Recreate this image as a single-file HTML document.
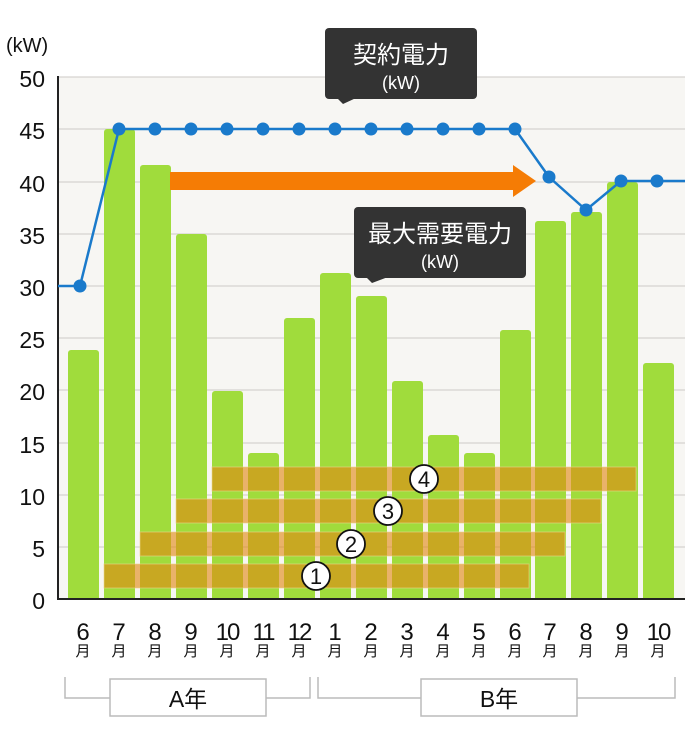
<!DOCTYPE html>
<html><head><meta charset="utf-8"><style>
body{margin:0;background:#fff;}
svg text{font-family:"Liberation Sans","Noto Sans CJK JP",sans-serif;}
</style></head><body>
<svg width="700" height="750" viewBox="0 0 700 750">
<rect x="58" y="77" width="627" height="522" fill="#f7f6f3"/>
<g stroke="#d6d4d0" stroke-width="1.2">
<line x1="58" y1="77" x2="685" y2="77"/><line x1="58" y1="129" x2="685" y2="129"/>
<line x1="58" y1="182" x2="685" y2="182"/><line x1="58" y1="234" x2="685" y2="234"/>
<line x1="58" y1="286" x2="685" y2="286"/><line x1="58" y1="338" x2="685" y2="338"/>
<line x1="58" y1="390" x2="685" y2="390"/><line x1="58" y1="443" x2="685" y2="443"/>
<line x1="58" y1="495" x2="685" y2="495"/><line x1="58" y1="547" x2="685" y2="547"/>
</g>
<g fill="#a0dc3c">
<rect x="68" y="350" width="31" height="260" rx="3"/>
<rect x="104" y="129" width="31" height="480" rx="3"/>
<rect x="140" y="165" width="31" height="440" rx="3"/>
<rect x="176" y="234" width="31" height="370" rx="3"/>
<rect x="212" y="391" width="31" height="210" rx="3"/>
<rect x="248" y="453" width="31" height="150" rx="3"/>
<rect x="284" y="318" width="31" height="290" rx="3"/>
<rect x="320" y="273" width="31" height="330" rx="3"/>
<rect x="356" y="296" width="31" height="310" rx="3"/>
<rect x="392" y="381" width="31" height="220" rx="3"/>
<rect x="428" y="435" width="31" height="170" rx="3"/>
<rect x="464" y="453" width="31" height="150" rx="3"/>
<rect x="500" y="330" width="31" height="280" rx="3"/>
<rect x="535" y="221" width="31" height="390" rx="3"/>
<rect x="571" y="212" width="31" height="390" rx="3"/>
<rect x="607" y="182" width="31" height="420" rx="3"/>
<rect x="643" y="363" width="31" height="240" rx="3"/>
</g>
<rect x="58" y="599" width="627" height="20" fill="#fff"/>
<g fill="rgb(225,135,20)" fill-opacity="0.62" stroke="#ead58a" stroke-opacity="0.6" stroke-width="1">
<rect x="104" y="564" width="425" height="24"/>
<rect x="140" y="532" width="425" height="24"/>
<rect x="176" y="499" width="425" height="24"/>
<rect x="212" y="467" width="424" height="24"/>
</g>
<line x1="58" y1="76" x2="58" y2="600" stroke="#222" stroke-width="2"/>
<line x1="57" y1="599" x2="685" y2="599" stroke="#222" stroke-width="2"/>
<polygon points="170,172 513,172 513,165 536,181 513,197 513,190 170,190" fill="#f57c05"/>
<polyline points="58,286 80,286 119,129 515,129 549,177 586,210 621,181 657,181 685,181" fill="none" stroke="#1a7acb" stroke-width="2.5"/>
<g fill="#1a7acb">
<circle cx="80" cy="286" r="6.5"/><circle cx="119" cy="129" r="6.5"/><circle cx="155" cy="129" r="6.5"/><circle cx="191" cy="129" r="6.5"/><circle cx="227" cy="129" r="6.5"/><circle cx="263" cy="129" r="6.5"/><circle cx="299" cy="129" r="6.5"/><circle cx="335" cy="129" r="6.5"/><circle cx="371" cy="129" r="6.5"/><circle cx="407" cy="129" r="6.5"/><circle cx="443" cy="129" r="6.5"/><circle cx="479" cy="129" r="6.5"/><circle cx="515" cy="129" r="6.5"/><circle cx="549" cy="177" r="6.5"/><circle cx="586" cy="210" r="6.5"/><circle cx="621" cy="181" r="6.5"/><circle cx="657" cy="181" r="6.5"/>
</g>
<g fill="#fff" stroke="#111" stroke-width="1.8">
<circle cx="316" cy="576" r="14"/><circle cx="351" cy="544" r="14"/><circle cx="388" cy="511" r="14"/><circle cx="424" cy="479" r="14"/>
</g>
<g font-size="22" text-anchor="middle" fill="#111">
<text x="316" y="584">1</text><text x="351" y="552">2</text><text x="388" y="519">3</text><text x="424" y="487">4</text>
</g>
<rect x="325" y="28" width="152" height="71" rx="4" fill="#333"/>
<polygon points="337,98 356,98 343,104" fill="#333"/>
<text x="401" y="63" font-size="24" fill="#fff" text-anchor="middle">契約電力</text>
<text x="401" y="89" font-size="18" fill="#fff" text-anchor="middle">(kW)</text>
<rect x="354" y="207" width="172" height="71" rx="4" fill="#333"/>
<polygon points="366,277 388,277 372,283" fill="#333"/>
<text x="440" y="242" font-size="24" fill="#fff" text-anchor="middle">最大需要電力</text>
<text x="440" y="268" font-size="18" fill="#fff" text-anchor="middle">(kW)</text>
<g font-size="23" fill="#111" text-anchor="end">
<text x="45" y="87">50</text><text x="45" y="139">45</text><text x="45" y="192">40</text><text x="45" y="244">35</text><text x="45" y="296">30</text><text x="45" y="348">25</text><text x="45" y="400">20</text><text x="45" y="453">15</text><text x="45" y="505">10</text><text x="45" y="557">5</text><text x="45" y="609">0</text>
</g>
<text x="6" y="52" font-size="20" fill="#111">(kW)</text>
<g font-size="24" fill="#111" text-anchor="middle">
<text x="83" y="640">6</text><text x="119" y="640">7</text><text x="155" y="640">8</text><text x="191" y="640">9</text><text x="227" y="640" letter-spacing="-2">10</text><text x="263" y="640" letter-spacing="-2">11</text><text x="299" y="640" letter-spacing="-2">12</text><text x="335" y="640">1</text><text x="371" y="640">2</text><text x="407" y="640">3</text><text x="443" y="640">4</text><text x="479" y="640">5</text><text x="515" y="640">6</text><text x="550" y="640">7</text><text x="586" y="640">8</text><text x="622" y="640">9</text><text x="658" y="640" letter-spacing="-2">10</text>
</g>
<g font-size="15" fill="#111" text-anchor="middle">
<text x="83" y="656">月</text><text x="119" y="656">月</text><text x="155" y="656">月</text><text x="191" y="656">月</text><text x="227" y="656">月</text><text x="263" y="656">月</text><text x="299" y="656">月</text><text x="335" y="656">月</text><text x="371" y="656">月</text><text x="407" y="656">月</text><text x="443" y="656">月</text><text x="479" y="656">月</text><text x="515" y="656">月</text><text x="550" y="656">月</text><text x="586" y="656">月</text><text x="622" y="656">月</text><text x="658" y="656">月</text>
</g>
<g fill="none" stroke="#bbb" stroke-width="1.5">
<polyline points="65,677 65,698 110,698"/><polyline points="266,698 310,698 310,677"/>
<polyline points="318,677 318,698 421,698"/><polyline points="577,698 675,698 675,677"/>
<rect x="110" y="679" width="156" height="37" fill="#fff"/>
<rect x="421" y="679" width="156" height="37" fill="#fff"/>
</g>
<text x="188" y="707" font-size="23" fill="#111" text-anchor="middle">A年</text>
<text x="499" y="707" font-size="23" fill="#111" text-anchor="middle">B年</text>
</svg>
</body></html>
